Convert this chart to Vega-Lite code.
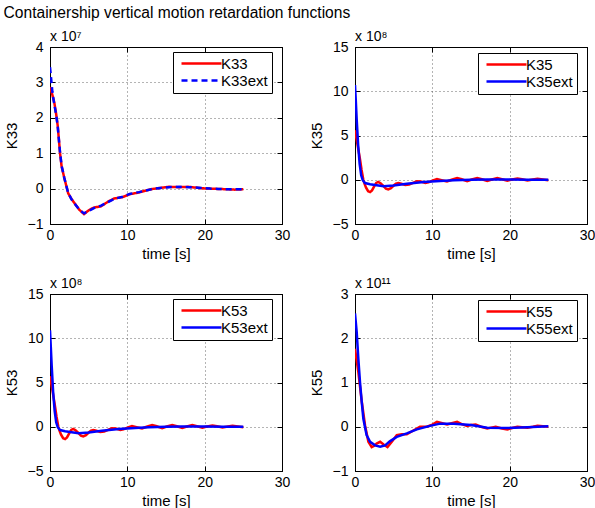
{
  "$schema": "https://vega.github.io/schema/vega-lite/v6.json",
  "padding": {"left": 3, "top": 5, "right": 0, "bottom": 0},
  "title": {"text": "Containership vertical motion retardation functions", "anchor": "start", "frame": "bounds", "fontSize": 15.6, "fontWeight": "normal", "font": "Liberation Sans", "color": "black", "offset": 8},
  "data": {"values": [
    {"panel":"K33","series":"K33","t":0,"K":28700000},
    {"panel":"K33","series":"K33","t":0.3,"K":26500000},
    {"panel":"K33","series":"K33","t":0.55,"K":24400000},
    {"panel":"K33","series":"K33","t":0.8,"K":21000000},
    {"panel":"K33","series":"K33","t":1.0,"K":17700000},
    {"panel":"K33","series":"K33","t":1.3,"K":10000000},
    {"panel":"K33","series":"K33","t":1.5,"K":6300000},
    {"panel":"K33","series":"K33","t":1.85,"K":3000000},
    {"panel":"K33","series":"K33","t":2.35,"K":-1300000},
    {"panel":"K33","series":"K33","t":2.8,"K":-3000000},
    {"panel":"K33","series":"K33","t":3.2,"K":-4200000},
    {"panel":"K33","series":"K33","t":3.8,"K":-6000000},
    {"panel":"K33","series":"K33","t":4.4,"K":-7200000},
    {"panel":"K33","series":"K33","t":4.9,"K":-6300000},
    {"panel":"K33","series":"K33","t":5.4,"K":-5600000},
    {"panel":"K33","series":"K33","t":5.8,"K":-5300000},
    {"panel":"K33","series":"K33","t":6.6,"K":-5000000},
    {"panel":"K33","series":"K33","t":7.5,"K":-3700000},
    {"panel":"K33","series":"K33","t":8.3,"K":-2800000},
    {"panel":"K33","series":"K33","t":9.4,"K":-2400000},
    {"panel":"K33","series":"K33","t":10.3,"K":-1600000},
    {"panel":"K33","series":"K33","t":11.5,"K":-1100000},
    {"panel":"K33","series":"K33","t":12.3,"K":-600000},
    {"panel":"K33","series":"K33","t":13.25,"K":-100000},
    {"panel":"K33","series":"K33","t":14.3,"K":200000},
    {"panel":"K33","series":"K33","t":15.4,"K":500000},
    {"panel":"K33","series":"K33","t":16.7,"K":400000},
    {"panel":"K33","series":"K33","t":17.9,"K":500000},
    {"panel":"K33","series":"K33","t":18.8,"K":300000},
    {"panel":"K33","series":"K33","t":19.6,"K":100000},
    {"panel":"K33","series":"K33","t":20.7,"K":0},
    {"panel":"K33","series":"K33","t":21.8,"K":-100000},
    {"panel":"K33","series":"K33","t":23.0,"K":-200000},
    {"panel":"K33","series":"K33","t":23.9,"K":-300000},
    {"panel":"K33","series":"K33","t":25.0,"K":-200000},
    {"panel":"K33","series":"K33ext","t":0,"K":34300000},
    {"panel":"K33","series":"K33ext","t":0.15,"K":31000000},
    {"panel":"K33","series":"K33ext","t":0.3,"K":27500000},
    {"panel":"K33","series":"K33ext","t":0.5,"K":24500000},
    {"panel":"K33","series":"K33ext","t":0.8,"K":20800000},
    {"panel":"K33","series":"K33ext","t":1.0,"K":17500000},
    {"panel":"K33","series":"K33ext","t":1.3,"K":10200000},
    {"panel":"K33","series":"K33ext","t":1.5,"K":6500000},
    {"panel":"K33","series":"K33ext","t":1.85,"K":3000000},
    {"panel":"K33","series":"K33ext","t":2.35,"K":-1200000},
    {"panel":"K33","series":"K33ext","t":2.8,"K":-3100000},
    {"panel":"K33","series":"K33ext","t":3.2,"K":-4300000},
    {"panel":"K33","series":"K33ext","t":3.8,"K":-6000000},
    {"panel":"K33","series":"K33ext","t":4.4,"K":-7000000},
    {"panel":"K33","series":"K33ext","t":4.9,"K":-6400000},
    {"panel":"K33","series":"K33ext","t":5.8,"K":-5400000},
    {"panel":"K33","series":"K33ext","t":6.6,"K":-4800000},
    {"panel":"K33","series":"K33ext","t":7.5,"K":-3800000},
    {"panel":"K33","series":"K33ext","t":8.3,"K":-2900000},
    {"panel":"K33","series":"K33ext","t":9.4,"K":-2300000},
    {"panel":"K33","series":"K33ext","t":10.3,"K":-1500000},
    {"panel":"K33","series":"K33ext","t":11.5,"K":-1000000},
    {"panel":"K33","series":"K33ext","t":12.3,"K":-600000},
    {"panel":"K33","series":"K33ext","t":13.25,"K":-100000},
    {"panel":"K33","series":"K33ext","t":14.3,"K":200000},
    {"panel":"K33","series":"K33ext","t":15.4,"K":400000},
    {"panel":"K33","series":"K33ext","t":16.7,"K":500000},
    {"panel":"K33","series":"K33ext","t":17.9,"K":400000},
    {"panel":"K33","series":"K33ext","t":18.8,"K":300000},
    {"panel":"K33","series":"K33ext","t":19.6,"K":200000},
    {"panel":"K33","series":"K33ext","t":20.7,"K":0},
    {"panel":"K33","series":"K33ext","t":21.8,"K":-100000},
    {"panel":"K33","series":"K33ext","t":23.0,"K":-200000},
    {"panel":"K33","series":"K33ext","t":23.9,"K":-200000},
    {"panel":"K33","series":"K33ext","t":25.0,"K":-200000},

    {"panel":"K35","series":"K35","t":0,"K":560000000},
    {"panel":"K35","series":"K35","t":0.3,"K":410000000},
    {"panel":"K35","series":"K35","t":0.65,"K":230000000},
    {"panel":"K35","series":"K35","t":0.85,"K":110000000},
    {"panel":"K35","series":"K35","t":1.08,"K":0},
    {"panel":"K35","series":"K35","t":1.25,"K":-50000000},
    {"panel":"K35","series":"K35","t":1.43,"K":-90000000},
    {"panel":"K35","series":"K35","t":1.7,"K":-130000000},
    {"panel":"K35","series":"K35","t":1.95,"K":-140000000},
    {"panel":"K35","series":"K35","t":2.2,"K":-120000000},
    {"panel":"K35","series":"K35","t":2.5,"K":-73000000},
    {"panel":"K35","series":"K35","t":2.75,"K":-35000000},
    {"panel":"K35","series":"K35","t":3.0,"K":-24000000},
    {"panel":"K35","series":"K35","t":3.3,"K":-40000000},
    {"panel":"K35","series":"K35","t":3.7,"K":-73000000},
    {"panel":"K35","series":"K35","t":4.0,"K":-100000000},
    {"panel":"K35","series":"K35","t":4.3,"K":-110000000},
    {"panel":"K35","series":"K35","t":4.65,"K":-95000000},
    {"panel":"K35","series":"K35","t":5.0,"K":-65000000},
    {"panel":"K35","series":"K35","t":5.3,"K":-45000000},
    {"panel":"K35","series":"K35","t":5.6,"K":-37000000},
    {"panel":"K35","series":"K35","t":6.0,"K":-45000000},
    {"panel":"K35","series":"K35","t":6.5,"K":-60000000},
    {"panel":"K35","series":"K35","t":7.0,"K":-55000000},
    {"panel":"K35","series":"K35","t":7.5,"K":-35000000},
    {"panel":"K35","series":"K35","t":8.0,"K":-17000000},
    {"panel":"K35","series":"K35","t":8.5,"K":-20000000},
    {"panel":"K35","series":"K35","t":9.1,"K":-37000000},
    {"panel":"K35","series":"K35","t":9.5,"K":-30000000},
    {"panel":"K35","series":"K35","t":10.0,"K":-10000000},
    {"panel":"K35","series":"K35","t":10.6,"K":7000000},
    {"panel":"K35","series":"K35","t":11.2,"K":-5000000},
    {"panel":"K35","series":"K35","t":11.9,"K":-20000000},
    {"panel":"K35","series":"K35","t":12.5,"K":0},
    {"panel":"K35","series":"K35","t":13.2,"K":20000000},
    {"panel":"K35","series":"K35","t":13.8,"K":5000000},
    {"panel":"K35","series":"K35","t":14.5,"K":-16000000},
    {"panel":"K35","series":"K35","t":15.1,"K":3000000},
    {"panel":"K35","series":"K35","t":15.8,"K":20000000},
    {"panel":"K35","series":"K35","t":16.4,"K":5000000},
    {"panel":"K35","series":"K35","t":17.1,"K":-14000000},
    {"panel":"K35","series":"K35","t":17.7,"K":3000000},
    {"panel":"K35","series":"K35","t":18.4,"K":18000000},
    {"panel":"K35","series":"K35","t":19.0,"K":5000000},
    {"panel":"K35","series":"K35","t":19.7,"K":-10000000},
    {"panel":"K35","series":"K35","t":20.3,"K":3000000},
    {"panel":"K35","series":"K35","t":21.0,"K":15000000},
    {"panel":"K35","series":"K35","t":21.6,"K":5000000},
    {"panel":"K35","series":"K35","t":22.3,"K":-8000000},
    {"panel":"K35","series":"K35","t":23.0,"K":3000000},
    {"panel":"K35","series":"K35","t":23.6,"K":12000000},
    {"panel":"K35","series":"K35","t":24.3,"K":3000000},
    {"panel":"K35","series":"K35","t":25.0,"K":-5000000},
    {"panel":"K35","series":"K35ext","t":0,"K":1070000000},
    {"panel":"K35","series":"K35ext","t":0.1,"K":900000000},
    {"panel":"K35","series":"K35ext","t":0.22,"K":680000000},
    {"panel":"K35","series":"K35ext","t":0.4,"K":400000000},
    {"panel":"K35","series":"K35ext","t":0.6,"K":180000000},
    {"panel":"K35","series":"K35ext","t":0.8,"K":50000000},
    {"panel":"K35","series":"K35ext","t":1.0,"K":-5000000},
    {"panel":"K35","series":"K35ext","t":1.3,"K":-37000000},
    {"panel":"K35","series":"K35ext","t":1.95,"K":-50000000},
    {"panel":"K35","series":"K35ext","t":2.8,"K":-62000000},
    {"panel":"K35","series":"K35ext","t":3.7,"K":-73000000},
    {"panel":"K35","series":"K35ext","t":5.0,"K":-65000000},
    {"panel":"K35","series":"K35ext","t":6.7,"K":-45000000},
    {"panel":"K35","series":"K35ext","t":8.9,"K":-26000000},
    {"panel":"K35","series":"K35ext","t":11.0,"K":-15000000},
    {"panel":"K35","series":"K35ext","t":12.8,"K":-6000000},
    {"panel":"K35","series":"K35ext","t":15.0,"K":0},
    {"panel":"K35","series":"K35ext","t":17.1,"K":2000000},
    {"panel":"K35","series":"K35ext","t":20.0,"K":2000000},
    {"panel":"K35","series":"K35ext","t":22.5,"K":1000000},
    {"panel":"K35","series":"K35ext","t":25.0,"K":0},

    {"panel":"K53","series":"K53","t":0,"K":570000000},
    {"panel":"K53","series":"K53","t":0.3,"K":420000000},
    {"panel":"K53","series":"K53","t":0.65,"K":230000000},
    {"panel":"K53","series":"K53","t":0.85,"K":110000000},
    {"panel":"K53","series":"K53","t":1.08,"K":0},
    {"panel":"K53","series":"K53","t":1.25,"K":-50000000},
    {"panel":"K53","series":"K53","t":1.43,"K":-90000000},
    {"panel":"K53","series":"K53","t":1.7,"K":-130000000},
    {"panel":"K53","series":"K53","t":1.95,"K":-140000000},
    {"panel":"K53","series":"K53","t":2.2,"K":-120000000},
    {"panel":"K53","series":"K53","t":2.5,"K":-73000000},
    {"panel":"K53","series":"K53","t":2.75,"K":-35000000},
    {"panel":"K53","series":"K53","t":3.0,"K":-24000000},
    {"panel":"K53","series":"K53","t":3.3,"K":-40000000},
    {"panel":"K53","series":"K53","t":3.7,"K":-73000000},
    {"panel":"K53","series":"K53","t":4.0,"K":-100000000},
    {"panel":"K53","series":"K53","t":4.3,"K":-110000000},
    {"panel":"K53","series":"K53","t":4.65,"K":-95000000},
    {"panel":"K53","series":"K53","t":5.0,"K":-65000000},
    {"panel":"K53","series":"K53","t":5.3,"K":-45000000},
    {"panel":"K53","series":"K53","t":5.6,"K":-37000000},
    {"panel":"K53","series":"K53","t":6.0,"K":-45000000},
    {"panel":"K53","series":"K53","t":6.5,"K":-60000000},
    {"panel":"K53","series":"K53","t":7.0,"K":-55000000},
    {"panel":"K53","series":"K53","t":7.5,"K":-35000000},
    {"panel":"K53","series":"K53","t":8.0,"K":-17000000},
    {"panel":"K53","series":"K53","t":8.5,"K":-20000000},
    {"panel":"K53","series":"K53","t":9.1,"K":-37000000},
    {"panel":"K53","series":"K53","t":9.5,"K":-30000000},
    {"panel":"K53","series":"K53","t":10.0,"K":-10000000},
    {"panel":"K53","series":"K53","t":10.6,"K":7000000},
    {"panel":"K53","series":"K53","t":11.2,"K":-5000000},
    {"panel":"K53","series":"K53","t":11.9,"K":-20000000},
    {"panel":"K53","series":"K53","t":12.5,"K":0},
    {"panel":"K53","series":"K53","t":13.2,"K":20000000},
    {"panel":"K53","series":"K53","t":13.8,"K":5000000},
    {"panel":"K53","series":"K53","t":14.5,"K":-16000000},
    {"panel":"K53","series":"K53","t":15.1,"K":3000000},
    {"panel":"K53","series":"K53","t":15.8,"K":20000000},
    {"panel":"K53","series":"K53","t":16.4,"K":5000000},
    {"panel":"K53","series":"K53","t":17.1,"K":-14000000},
    {"panel":"K53","series":"K53","t":17.7,"K":3000000},
    {"panel":"K53","series":"K53","t":18.4,"K":18000000},
    {"panel":"K53","series":"K53","t":19.0,"K":5000000},
    {"panel":"K53","series":"K53","t":19.7,"K":-10000000},
    {"panel":"K53","series":"K53","t":20.3,"K":3000000},
    {"panel":"K53","series":"K53","t":21.0,"K":15000000},
    {"panel":"K53","series":"K53","t":21.6,"K":5000000},
    {"panel":"K53","series":"K53","t":22.3,"K":-8000000},
    {"panel":"K53","series":"K53","t":23.0,"K":3000000},
    {"panel":"K53","series":"K53","t":23.6,"K":12000000},
    {"panel":"K53","series":"K53","t":24.3,"K":3000000},
    {"panel":"K53","series":"K53","t":25.0,"K":-5000000},
    {"panel":"K53","series":"K53ext","t":0,"K":1090000000},
    {"panel":"K53","series":"K53ext","t":0.1,"K":910000000},
    {"panel":"K53","series":"K53ext","t":0.22,"K":690000000},
    {"panel":"K53","series":"K53ext","t":0.4,"K":400000000},
    {"panel":"K53","series":"K53ext","t":0.6,"K":180000000},
    {"panel":"K53","series":"K53ext","t":0.8,"K":50000000},
    {"panel":"K53","series":"K53ext","t":1.0,"K":-5000000},
    {"panel":"K53","series":"K53ext","t":1.3,"K":-37000000},
    {"panel":"K53","series":"K53ext","t":1.95,"K":-50000000},
    {"panel":"K53","series":"K53ext","t":2.8,"K":-62000000},
    {"panel":"K53","series":"K53ext","t":3.7,"K":-73000000},
    {"panel":"K53","series":"K53ext","t":5.0,"K":-65000000},
    {"panel":"K53","series":"K53ext","t":6.7,"K":-45000000},
    {"panel":"K53","series":"K53ext","t":8.9,"K":-26000000},
    {"panel":"K53","series":"K53ext","t":11.0,"K":-15000000},
    {"panel":"K53","series":"K53ext","t":12.8,"K":-6000000},
    {"panel":"K53","series":"K53ext","t":15.0,"K":0},
    {"panel":"K53","series":"K53ext","t":17.1,"K":2000000},
    {"panel":"K53","series":"K53ext","t":20.0,"K":2000000},
    {"panel":"K53","series":"K53ext","t":22.5,"K":1000000},
    {"panel":"K53","series":"K53ext","t":25.0,"K":0},

    {"panel":"K55","series":"K55","t":0,"K":176000000000},
    {"panel":"K55","series":"K55","t":0.43,"K":124000000000},
    {"panel":"K55","series":"K55","t":0.85,"K":60000000000},
    {"panel":"K55","series":"K55","t":1.3,"K":3000000000},
    {"panel":"K55","series":"K55","t":1.73,"K":-34000000000},
    {"panel":"K55","series":"K55","t":2.16,"K":-46000000000},
    {"panel":"K55","series":"K55","t":2.5,"K":-43000000000},
    {"panel":"K55","series":"K55","t":2.8,"K":-38000000000},
    {"panel":"K55","series":"K55","t":3.25,"K":-34000000000},
    {"panel":"K55","series":"K55","t":3.7,"K":-40000000000},
    {"panel":"K55","series":"K55","t":4.2,"K":-46000000000},
    {"panel":"K55","series":"K55","t":4.76,"K":-34000000000},
    {"panel":"K55","series":"K55","t":5.4,"K":-19000000000},
    {"panel":"K55","series":"K55","t":6.06,"K":-17000000000},
    {"panel":"K55","series":"K55","t":6.7,"K":-17000000000},
    {"panel":"K55","series":"K55","t":7.6,"K":-8000000000},
    {"panel":"K55","series":"K55","t":8.4,"K":0},
    {"panel":"K55","series":"K55","t":9.3,"K":0},
    {"panel":"K55","series":"K55","t":10.0,"K":5000000000},
    {"panel":"K55","series":"K55","t":10.6,"K":11000000000},
    {"panel":"K55","series":"K55","t":11.3,"K":8000000000},
    {"panel":"K55","series":"K55","t":11.9,"K":5000000000},
    {"panel":"K55","series":"K55","t":12.5,"K":8000000000},
    {"panel":"K55","series":"K55","t":13.2,"K":11000000000},
    {"panel":"K55","series":"K55","t":13.8,"K":6000000000},
    {"panel":"K55","series":"K55","t":14.5,"K":2000000000},
    {"panel":"K55","series":"K55","t":15.0,"K":4000000000},
    {"panel":"K55","series":"K55","t":15.6,"K":5000000000},
    {"panel":"K55","series":"K55","t":16.3,"K":0},
    {"panel":"K55","series":"K55","t":17.1,"K":-4000000000},
    {"panel":"K55","series":"K55","t":17.6,"K":-2000000000},
    {"panel":"K55","series":"K55","t":18.2,"K":0},
    {"panel":"K55","series":"K55","t":19.0,"K":-4000000000},
    {"panel":"K55","series":"K55","t":19.7,"K":-6000000000},
    {"panel":"K55","series":"K55","t":20.3,"K":-3000000000},
    {"panel":"K55","series":"K55","t":21.0,"K":0},
    {"panel":"K55","series":"K55","t":21.6,"K":-1000000000},
    {"panel":"K55","series":"K55","t":22.3,"K":-2000000000},
    {"panel":"K55","series":"K55","t":23.0,"K":0},
    {"panel":"K55","series":"K55","t":23.6,"K":2000000000},
    {"panel":"K55","series":"K55","t":24.3,"K":1000000000},
    {"panel":"K55","series":"K55","t":25.0,"K":0},
    {"panel":"K55","series":"K55ext","t":0,"K":256000000000},
    {"panel":"K55","series":"K55ext","t":0.22,"K":214000000000},
    {"panel":"K55","series":"K55ext","t":0.43,"K":154000000000},
    {"panel":"K55","series":"K55ext","t":0.65,"K":100000000000},
    {"panel":"K55","series":"K55ext","t":0.87,"K":56000000000},
    {"panel":"K55","series":"K55ext","t":1.08,"K":18000000000},
    {"panel":"K55","series":"K55ext","t":1.5,"K":-19000000000},
    {"panel":"K55","series":"K55ext","t":1.95,"K":-34000000000},
    {"panel":"K55","series":"K55ext","t":2.6,"K":-42000000000},
    {"panel":"K55","series":"K55ext","t":3.25,"K":-45000000000},
    {"panel":"K55","series":"K55ext","t":3.9,"K":-42000000000},
    {"panel":"K55","series":"K55ext","t":4.5,"K":-33000000000},
    {"panel":"K55","series":"K55ext","t":5.4,"K":-23000000000},
    {"panel":"K55","series":"K55ext","t":6.7,"K":-15000000000},
    {"panel":"K55","series":"K55ext","t":8.0,"K":-6000000000},
    {"panel":"K55","series":"K55ext","t":9.7,"K":2000000000},
    {"panel":"K55","series":"K55ext","t":11.0,"K":7000000000},
    {"panel":"K55","series":"K55ext","t":12.8,"K":7000000000},
    {"panel":"K55","series":"K55ext","t":15.0,"K":4000000000},
    {"panel":"K55","series":"K55ext","t":17.1,"K":-2000000000},
    {"panel":"K55","series":"K55ext","t":19.7,"K":-3000000000},
    {"panel":"K55","series":"K55ext","t":22.3,"K":-1000000000},
    {"panel":"K55","series":"K55ext","t":25.0,"K":1000000000}
  ]},
  "columns": 2,
  "spacing": {"row": 70, "column": 73},
  "bounds": "flush",
  "resolve": {"scale": {"x": "independent", "y": "independent", "color": "independent", "strokeDash": "independent"}, "legend": {"color": "independent", "strokeDash": "independent"}},
  "concat": [
    {
      "title": {"text": "x 10⁷"},
      "width": 232, "height": 177,
      "transform": [{"filter": "datum.panel === 'K33'"}],
      "layer": [
        {"mark": {"type": "line", "strokeWidth": 2.5, "clip": true},
         "encoding": {
           "x": {"field": "t", "type": "quantitative", "scale": {"domain": [0, 30], "nice": false}, "axis": {"title": "time [s]", "values": [0, 10, 20, 30]}},
           "y": {"field": "K", "type": "quantitative", "scale": {"domain": [-10000000, 40000000], "nice": false, "zero": false}, "axis": {"title": "K33", "values": [-10000000, 0, 10000000, 20000000, 30000000, 40000000], "labelExpr": "format(datum.value / 1e7, 'd')"}},
           "color": {"field": "series", "type": "nominal", "scale": {"domain": ["K33", "K33ext"], "range": ["#ff0000", "#0000ff"]}, "title": null, "legend": {"orient": "none", "legendX": 123, "legendY": 5, "encode": {"symbols": {"update": {"strokeDash": {"signal": "datum.value === 'K33ext' ? [6, 4] : [1, 0]"}}}}}},
           "strokeDash": {"field": "series", "type": "nominal", "scale": {"domain": ["K33", "K33ext"], "range": [[1, 0], [6, 4]]}, "legend": null}
         }},
        {"mark": {"type": "line", "opacity": 0},
         "encoding": {
           "x": {"field": "t", "type": "quantitative", "axis": {"orient": "top", "labels": false, "title": null, "grid": false, "labelPadding": 0, "values": [0, 10, 20, 30]}},
           "y": {"field": "K", "type": "quantitative", "axis": {"orient": "right", "labels": false, "title": null, "grid": false, "labelPadding": 0, "values": [-10000000, 0, 10000000, 20000000, 30000000, 40000000]}},
           "detail": {"field": "series"}
         }}
      ],
      "resolve": {"axis": {"x": "independent", "y": "independent"}}
    },
    {
      "title": {"text": "x 10⁸"},
      "width": 232, "height": 177,
      "transform": [{"filter": "datum.panel === 'K35'"}],
      "layer": [
        {"mark": {"type": "line", "strokeWidth": 2.5, "clip": true},
         "encoding": {
           "x": {"field": "t", "type": "quantitative", "scale": {"domain": [0, 30], "nice": false}, "axis": {"title": "time [s]", "values": [0, 10, 20, 30]}},
           "y": {"field": "K", "type": "quantitative", "scale": {"domain": [-500000000, 1500000000], "nice": false, "zero": false}, "axis": {"title": "K35", "values": [-500000000, 0, 500000000, 1000000000, 1500000000], "labelExpr": "format(datum.value / 1e8, 'd')"}},
           "color": {"field": "series", "type": "nominal", "scale": {"domain": ["K35", "K35ext"], "range": ["#ff0000", "#0000ff"]}, "title": null, "legend": {"orient": "none", "legendX": 123, "legendY": 6}}
         }},
        {"mark": {"type": "line", "opacity": 0},
         "encoding": {
           "x": {"field": "t", "type": "quantitative", "axis": {"orient": "top", "labels": false, "title": null, "grid": false, "labelPadding": 0, "values": [0, 10, 20, 30]}},
           "y": {"field": "K", "type": "quantitative", "axis": {"orient": "right", "labels": false, "title": null, "grid": false, "labelPadding": 0, "values": [-500000000, 0, 500000000, 1000000000, 1500000000]}},
           "detail": {"field": "series"}
         }}
      ],
      "resolve": {"axis": {"x": "independent", "y": "independent"}}
    },
    {
      "title": {"text": "x 10⁸"},
      "width": 232, "height": 177,
      "transform": [{"filter": "datum.panel === 'K53'"}],
      "layer": [
        {"mark": {"type": "line", "strokeWidth": 2.5, "clip": true},
         "encoding": {
           "x": {"field": "t", "type": "quantitative", "scale": {"domain": [0, 30], "nice": false}, "axis": {"title": "time [s]", "values": [0, 10, 20, 30]}},
           "y": {"field": "K", "type": "quantitative", "scale": {"domain": [-500000000, 1500000000], "nice": false, "zero": false}, "axis": {"title": "K53", "values": [-500000000, 0, 500000000, 1000000000, 1500000000], "labelExpr": "format(datum.value / 1e8, 'd')"}},
           "color": {"field": "series", "type": "nominal", "scale": {"domain": ["K53", "K53ext"], "range": ["#ff0000", "#0000ff"]}, "title": null, "legend": {"orient": "none", "legendX": 123, "legendY": 5}}
         }},
        {"mark": {"type": "line", "opacity": 0},
         "encoding": {
           "x": {"field": "t", "type": "quantitative", "axis": {"orient": "top", "labels": false, "title": null, "grid": false, "labelPadding": 0, "values": [0, 10, 20, 30]}},
           "y": {"field": "K", "type": "quantitative", "axis": {"orient": "right", "labels": false, "title": null, "grid": false, "labelPadding": 0, "values": [-500000000, 0, 500000000, 1000000000, 1500000000]}},
           "detail": {"field": "series"}
         }}
      ],
      "resolve": {"axis": {"x": "independent", "y": "independent"}}
    },
    {
      "title": {"text": "x 10¹¹"},
      "width": 232, "height": 177,
      "transform": [{"filter": "datum.panel === 'K55'"}],
      "layer": [
        {"mark": {"type": "line", "strokeWidth": 2.5, "clip": true},
         "encoding": {
           "x": {"field": "t", "type": "quantitative", "scale": {"domain": [0, 30], "nice": false}, "axis": {"title": "time [s]", "values": [0, 10, 20, 30]}},
           "y": {"field": "K", "type": "quantitative", "scale": {"domain": [-100000000000, 300000000000], "nice": false, "zero": false}, "axis": {"title": "K55", "values": [-100000000000, 0, 100000000000, 200000000000, 300000000000], "labelExpr": "format(datum.value / 1e11, 'd')"}},
           "color": {"field": "series", "type": "nominal", "scale": {"domain": ["K55", "K55ext"], "range": ["#ff0000", "#0000ff"]}, "title": null, "legend": {"orient": "none", "legendX": 123, "legendY": 6}}
         }},
        {"mark": {"type": "line", "opacity": 0},
         "encoding": {
           "x": {"field": "t", "type": "quantitative", "axis": {"orient": "top", "labels": false, "title": null, "grid": false, "labelPadding": 0, "values": [0, 10, 20, 30]}},
           "y": {"field": "K", "type": "quantitative", "axis": {"orient": "right", "labels": false, "title": null, "grid": false, "labelPadding": 0, "values": [-100000000000, 0, 100000000000, 200000000000, 300000000000]}},
           "detail": {"field": "series"}
         }}
      ],
      "resolve": {"axis": {"x": "independent", "y": "independent"}}
    }
  ],
  "config": {
    "font": "Liberation Sans",
    "background": "white",
    "view": {"stroke": "black", "strokeWidth": 1},
    "title": {"anchor": "start", "frame": "group", "fontSize": 14, "fontWeight": "normal", "color": "black", "offset": -4, "font": "Liberation Sans"},
    "axis": {
      "domainColor": "black", "domainWidth": 1,
      "tickColor": "black", "tickSize": -5, "tickWidth": 1,
      "labelColor": "black", "labelFontSize": 14, "labelPadding": 12,
      "labelFont": "Liberation Sans", "titleFont": "Liberation Sans",
      "titleColor": "black", "titleFontSize": 15, "titleFontWeight": "normal", "titlePadding": 8,
      "grid": true, "gridColor": "#444", "gridDash": [1, 3], "gridWidth": 1, "gridOpacity": 0.8
    },
    "axisX": {"labelPadding": 9, "labelFlush": false, "labelOverlap": false, "titlePadding": 4},
    "axisY": {"labelOverlap": false},
    "legend": {
      "strokeColor": "black", "fillColor": "white", "padding": 4,
      "symbolType": "M-4,0L4,0", "symbolSize": 100, "symbolStrokeWidth": 2.5, "symbolOffset": 17,
      "labelFontSize": 15, "labelColor": "black", "labelFont": "Liberation Sans",
      "rowPadding": 1, "columnPadding": 0, "labelOffset": 12, "cornerRadius": 0
    }
  }
}
